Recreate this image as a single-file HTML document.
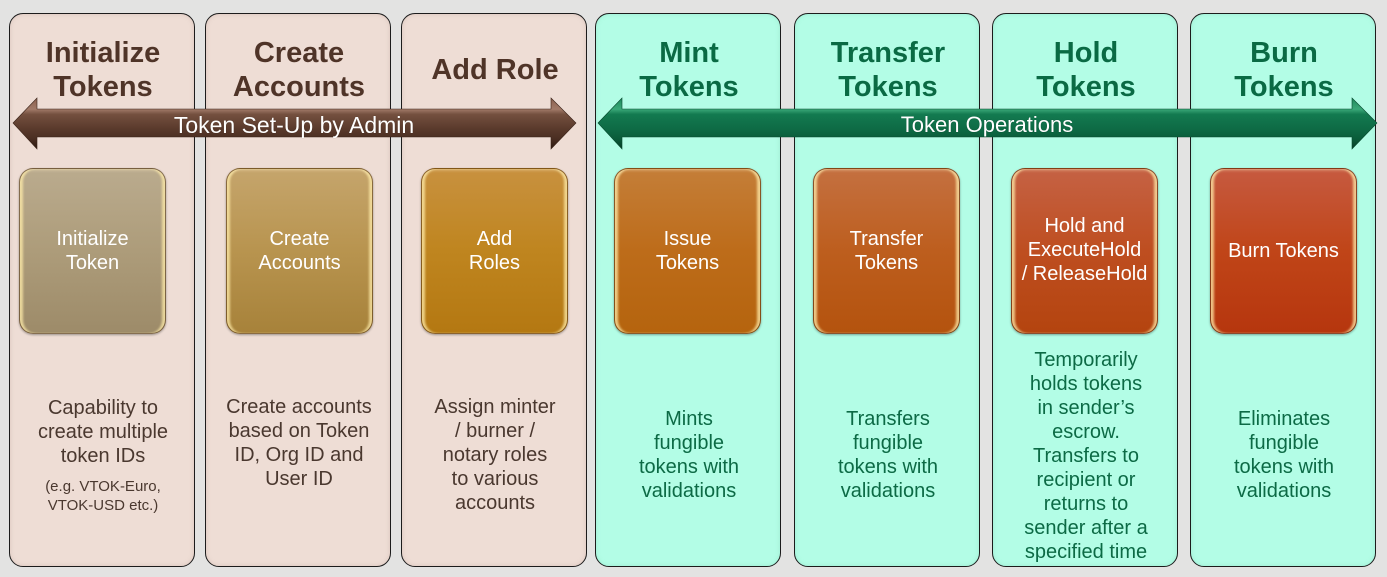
<!DOCTYPE html>
<html><head><meta charset="utf-8"><style>
html,body{margin:0;padding:0}
body{width:1387px;height:577px;background:#e3e3e2;position:relative;overflow:hidden;font-family:"Liberation Sans",sans-serif}
.p{position:absolute;top:13px;height:552px;width:184px;border:1.5px solid #1c1c1c;border-radius:14px;box-sizing:content-box}
.l{background:#eeddd5;box-shadow:inset 0 0 4px rgba(180,150,140,.35)}
.r{background:#b3fde6;box-shadow:inset 0 0 4px rgba(120,200,170,.35)}
.t{position:absolute;width:186px;text-align:center;font-weight:bold;font-size:29px;line-height:34px}
.tl{color:#4f3428}.tr{color:#0a6a44}
.b{position:absolute;top:168px;width:147px;height:166px;border-radius:14px;box-sizing:border-box;border:1px solid rgba(90,60,30,.55);box-shadow:inset 4px 0 2px -1px rgba(255,236,170,.75),inset -4px 0 2px -1px rgba(255,236,170,.75),inset 0 3px 3px -2px rgba(255,240,200,.5),0 1px 2px rgba(0,0,0,.35)}
.bt{position:absolute;width:147px;text-align:center;color:#fff;font-size:20px;line-height:24px}
.d{position:absolute;width:186px;text-align:center;font-size:20px;line-height:24px}
.dl{color:#4a382f}.dr{color:#0c6a45}
.lab{position:absolute;color:#fff;font-size:23px;line-height:28px;text-align:center;text-shadow:0 0 1px rgba(0,0,0,.3)}
</style></head><body>

<div class="p l" style="left:9px"></div>
<div class="p l" style="left:205px"></div>
<div class="p l" style="left:401px"></div>
<div class="p r" style="left:595px"></div>
<div class="p r" style="left:794px"></div>
<div class="p r" style="left:992px"></div>
<div class="p r" style="left:1190px"></div>

<div class="t tl" style="left:10px;top:36px">Initialize<br>Tokens</div>
<div class="t tl" style="left:206px;top:36px">Create<br>Accounts</div>
<div class="t tl" style="left:402px;top:53px">Add Role</div>
<div class="t tr" style="left:596px;top:36px">Mint<br>Tokens</div>
<div class="t tr" style="left:795px;top:36px">Transfer<br>Tokens</div>
<div class="t tr" style="left:993px;top:36px">Hold<br>Tokens</div>
<div class="t tr" style="left:1191px;top:36px">Burn<br>Tokens</div>

<svg style="position:absolute;left:0;top:0" width="1387" height="577">
<defs>
<linearGradient id="gb" gradientUnits="userSpaceOnUse" x1="0" y1="98" x2="0" y2="149">
<stop offset="0" stop-color="#8a604e"/><stop offset="0.22" stop-color="#a27a68"/><stop offset="0.32" stop-color="#74503f"/><stop offset="0.6" stop-color="#5a3a2c"/><stop offset="0.8" stop-color="#4a2e22"/><stop offset="1" stop-color="#2a170f"/>
</linearGradient>
<linearGradient id="gg" gradientUnits="userSpaceOnUse" x1="0" y1="98" x2="0" y2="149">
<stop offset="0" stop-color="#1f8a5c"/><stop offset="0.22" stop-color="#3aa878"/><stop offset="0.32" stop-color="#137a50"/><stop offset="0.6" stop-color="#0e6b45"/><stop offset="0.8" stop-color="#0a5c3a"/><stop offset="1" stop-color="#063a24"/>
</linearGradient>
</defs>
<polygon points="13,123 37,98 37,109 551,109 551,98 576,123 551,149 551,137 37,137 37,149" fill="url(#gb)" stroke="#3a2319" stroke-width="0.6"/>
<polygon points="598,123 622,98 622,109 1352,109 1352,98 1377,123 1352,149 1352,137 622,137 622,149" fill="url(#gg)" stroke="#064a2e" stroke-width="0.6"/>
</svg>
<div class="lab" style="left:94px;width:400px;top:111px">Token Set-Up by Admin</div>
<div class="lab" style="left:787px;width:400px;top:111px;font-size:22px">Token Operations</div>

<div class="b" style="left:19px;background:linear-gradient(#baab8e,#ad9c7a 50%,#9d8b69)"></div>
<div class="b" style="left:226px;background:linear-gradient(#c5a56c,#b8944f 50%,#a7823a)"></div>
<div class="b" style="left:421px;background:linear-gradient(#c8913f,#bf851f 50%,#b47812)"></div>
<div class="b" style="left:614px;background:linear-gradient(#c47e38,#bd6c1a 50%,#b5640e)"></div>
<div class="b" style="left:813px;background:linear-gradient(#c47040,#bd5e1e 50%,#b4530e)"></div>
<div class="b" style="left:1011px;background:linear-gradient(#c56244,#be4e20 50%,#b4440f)"></div>
<div class="b" style="left:1210px;background:linear-gradient(#c65a40,#c04518 50%,#b6360e)"></div>

<div class="bt" style="left:19px;top:227px">Initialize<br>Token</div>
<div class="bt" style="left:226px;top:227px">Create<br>Accounts</div>
<div class="bt" style="left:421px;top:227px">Add<br>Roles</div>
<div class="bt" style="left:614px;top:227px">Issue<br>Tokens</div>
<div class="bt" style="left:813px;top:227px">Transfer<br>Tokens</div>
<div class="bt" style="left:1011px;top:214px">Hold and<br>ExecuteHold<br>/ ReleaseHold</div>
<div class="bt" style="left:1210px;top:239px">Burn Tokens</div>

<div class="d dl" style="left:10px;top:396px">Capability to<br>create multiple<br>token IDs</div>
<div class="d dl" style="left:10px;top:477px;font-size:15px;line-height:19px">(e.g. VTOK-Euro,<br>VTOK-USD etc.)</div>
<div class="d dl" style="left:206px;top:395px">Create accounts<br>based on Token<br>ID, Org ID and<br>User ID</div>
<div class="d dl" style="left:402px;top:395px">Assign minter<br>/ burner /<br>notary roles<br>to various<br>accounts</div>
<div class="d dr" style="left:596px;top:407px">Mints<br>fungible<br>tokens with<br>validations</div>
<div class="d dr" style="left:795px;top:407px">Transfers<br>fungible<br>tokens with<br>validations</div>
<div class="d dr" style="left:993px;top:348px">Temporarily<br>holds tokens<br>in sender’s<br>escrow.<br>Transfers to<br>recipient or<br>returns to<br>sender after a<br>specified time</div>
<div class="d dr" style="left:1191px;top:407px">Eliminates<br>fungible<br>tokens with<br>validations</div>

</body></html>
